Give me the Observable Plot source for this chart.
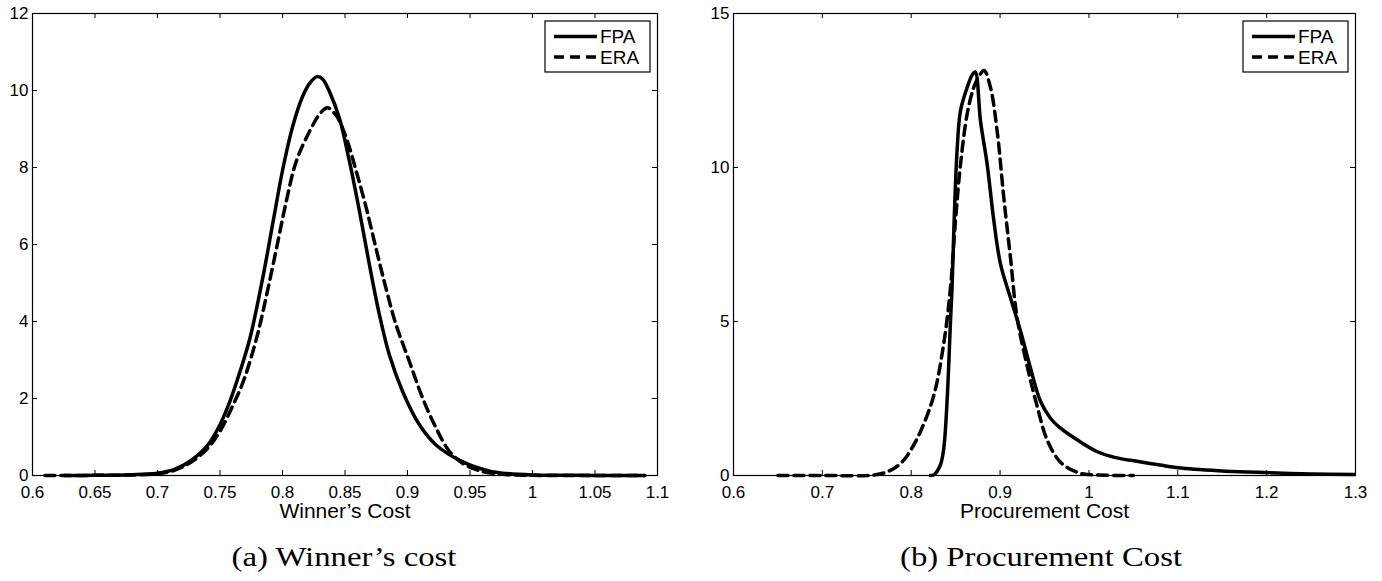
<!DOCTYPE html>
<html>
<head>
<meta charset="utf-8">
<script src="https://cdn.jsdelivr.net/npm/d3@7"></script>
<script src="https://cdn.jsdelivr.net/npm/@observablehq/plot@0.6"></script>
<style>
  html, body { margin: 0; padding: 0; background: #fff; }
  #wrap { position: relative; width: 1382px; height: 581px; overflow: hidden; }
  .panel { position: absolute; top: 0; }
  .cap { position: absolute; top: 541px; width: 600px; text-align: center;
         font-family: "Liberation Serif", "DejaVu Serif", serif; font-size: 28px; line-height: 32px;
         color: #000; transform: scaleX(1.17); transform-origin: center; white-space: nowrap; }
</style>
</head>
<body>
<div id="wrap"></div>
<script>
// ---------- data ----------
// Panel (a) Winner's cost
const fpaA_x = [0.625,0.65,0.68,0.70,0.713,0.726,0.7395,0.75,0.758,0.766,0.774,0.7846,0.7925,0.8005,0.8084,0.8164,0.822,0.8276,0.832,0.8377,0.8456,0.8536,0.8616,0.8695,0.8775,0.8854,0.896,0.9093,0.9226,0.9438,0.965,0.98,1.0,1.05,1.09];
const fpaA_y = [0,0.005,0.02,0.06,0.15,0.37,0.76,1.32,1.93,2.7,3.57,5.2,6.6,8.0,9.1,9.87,10.2,10.36,10.3,9.96,9.27,8.15,6.86,5.48,4.18,3.14,2.19,1.33,0.80,0.36,0.12,0.05,0.015,0.003,0];
const eraA_x = [0.61,0.65,0.68,0.70,0.713,0.726,0.74,0.75,0.76,0.7687,0.7793,0.7873,0.7952,0.803,0.811,0.8217,0.83,0.836,0.843,0.851,0.859,0.867,0.8748,0.8828,0.8908,0.9014,0.912,0.9226,0.933,0.944,0.955,0.965,0.98,1.0,1.05,1.09];
const eraA_y = [0,0.004,0.015,0.05,0.13,0.33,0.7,1.15,1.8,2.45,3.57,4.69,5.9,7.12,8.16,8.94,9.4,9.55,9.35,8.77,7.9,6.95,5.9,4.86,3.92,2.97,2.02,1.25,0.65,0.32,0.15,0.07,0.02,0.005,0.001,0];
const xTicksA = [0.6,0.65,0.7,0.75,0.8,0.85,0.9,0.95,1,1.05,1.1];
const yTicksA = [0,2,4,6,8,10,12];

// Panel (b) Procurement Cost
const fpaB_x = [0.82,0.8254,0.8329,0.8367,0.8405,0.8442,0.8461,0.848,0.8517,0.8555,0.863,0.8685,0.872,0.878,0.8855,0.893,0.9005,0.9117,0.923,0.9342,0.9455,0.9567,0.968,0.9868,1.009,1.03,1.054,1.08,1.104,1.154,1.204,1.25,1.3];
const fpaB_y = [0,0.02,0.35,0.9,2.5,5.0,6.2,8.0,10.6,11.85,12.6,13.0,13.1,11.5,10.1,8.27,6.86,5.77,4.69,3.49,2.41,1.86,1.54,1.16,0.78,0.58,0.46,0.34,0.24,0.14,0.09,0.05,0.03];
const eraB_x = [0.65,0.70,0.7617,0.78,0.7917,0.8,0.8105,0.8254,0.8367,0.8442,0.8498,0.8555,0.863,0.8704,0.877,0.882,0.8892,0.8967,0.9042,0.9117,0.919,0.9305,0.942,0.953,0.968,0.987,1.0,1.05];
const eraB_y = [0,0.002,0.03,0.22,0.5,0.85,1.43,2.6,4.3,6.1,8.27,10.11,11.74,12.6,13.0,13.15,12.6,11.19,9.02,7.07,5.15,3.55,2.22,1.15,0.43,0.1,0.03,0];
const xTicksB = [0.6,0.7,0.8,0.9,1,1.1,1.2,1.3];
const yTicksB = [0,5,10,15];

const seriesNames = ["FPA", "ERA"];
const xLabels = ["Winner’s Cost", "Procurement Cost"];
const captions = ["(a) Winner’s cost", "(b) Procurement Cost"];

// ---------- drawing ----------
const W = 691, H = 530;
const fmt = d => String(+d.toFixed(2));
const toRows = (xs, ys) => xs.map((x, i) => ({x, y: ys[i]}));

function panel({fpa, era, xDomain, yDomain, xTicks, yTicks, ml, mr, xLabel}) {
  const mt = 13, mb = 55;
  const fw = W - ml - mr, fh = H - mt - mb, tl = 5;
  const svg = Plot.plot({
    width: W, height: H,
    marginLeft: ml, marginRight: mr, marginTop: mt, marginBottom: mb,
    style: {fontFamily: "'Liberation Sans', Arial, sans-serif", fontSize: "17px", color: "#000", background: "#fff", overflow: "visible"},
    x: {domain: xDomain, label: null},
    y: {domain: yDomain, label: null},
    marks: [
      Plot.axisX({ticks: xTicks, tickFormat: fmt, tickSize: 0, tickPadding: 10, label: null}),
      Plot.axisY({ticks: yTicks, tickFormat: fmt, tickSize: 0, tickPadding: 4, label: null}),
      Plot.ruleX(xTicks, {x: d => d, insetTop: fh - tl, stroke: "#000", strokeWidth: 1}),
      Plot.ruleX(xTicks, {x: d => d, insetBottom: fh - tl, stroke: "#000", strokeWidth: 1}),
      Plot.ruleY(yTicks, {y: d => d, insetRight: fw - tl, stroke: "#000", strokeWidth: 1}),
      Plot.ruleY(yTicks, {y: d => d, insetLeft: fw - tl, stroke: "#000", strokeWidth: 1}),
      Plot.line(fpa, {x: "x", y: "y", stroke: "#000", strokeWidth: 3.5, strokeLinejoin: "round", strokeLinecap: "butt", curve: "catmull-rom"}),
      Plot.line(era, {x: "x", y: "y", stroke: "#000", strokeWidth: 3.5, strokeDasharray: "10,6", strokeLinejoin: "round", curve: "catmull-rom"}),
      Plot.frame({stroke: "#000", strokeWidth: 1.2}),
      Plot.text([xLabel], {text: d => d, frameAnchor: "bottom", dy: 36, lineAnchor: "middle", fontSize: 21, fill: "#000"})
    ]
  });
  // legend box (MATLAB-style, upper right inside the frame)
  const bw = 105, bh = 51;
  const bx = W - mr - 112, by = 21;
  const g = d3.select(svg).append("g").attr("class", "legend").attr("text-anchor", "start");
  g.append("rect").attr("x", bx).attr("y", by).attr("width", bw).attr("height", bh)
    .attr("fill", "#fff").attr("stroke", "#000").attr("stroke-width", 1.2);
  seriesNames.forEach((name, i) => {
    const yy = by + 15.5 + i * 20.5;
    g.append("line").attr("x1", bx + 9).attr("x2", bx + 52).attr("y1", yy).attr("y2", yy)
      .attr("stroke", "#000").attr("stroke-width", 3.5)
      .attr("stroke-dasharray", i === 1 ? "10,6" : null);
    g.append("text").attr("x", bx + 55).attr("y", yy).attr("dy", "0.36em")
      .attr("text-anchor", "start")
      .attr("font-size", 19).attr("fill", "#000").text(name);
  });
  return svg;
}

const wrap = document.getElementById("wrap");

const left = panel({
  fpa: toRows(fpaA_x, fpaA_y), era: toRows(eraA_x, eraA_y),
  xDomain: [0.6, 1.1], yDomain: [0, 12], xTicks: xTicksA, yTicks: yTicksA,
  ml: 32, mr: 34, xLabel: xLabels[0]
});
const right = panel({
  fpa: toRows(fpaB_x, fpaB_y), era: toRows(eraB_x, eraB_y),
  xDomain: [0.6, 1.3], yDomain: [0, 15], xTicks: xTicksB, yTicks: yTicksB,
  ml: 42, mr: 27, xLabel: xLabels[1]
});

const p1 = document.createElement("div"); p1.className = "panel"; p1.style.left = "0px"; p1.appendChild(left);
const p2 = document.createElement("div"); p2.className = "panel"; p2.style.left = "691px"; p2.appendChild(right);
wrap.appendChild(p1); wrap.appendChild(p2);

[[344, captions[0]], [1041, captions[1]]].forEach(([cx, t]) => {
  const c = document.createElement("div");
  c.className = "cap";
  c.style.left = (cx - 300) + "px";
  c.textContent = t;
  wrap.appendChild(c);
});
</script>
</body>
</html>
